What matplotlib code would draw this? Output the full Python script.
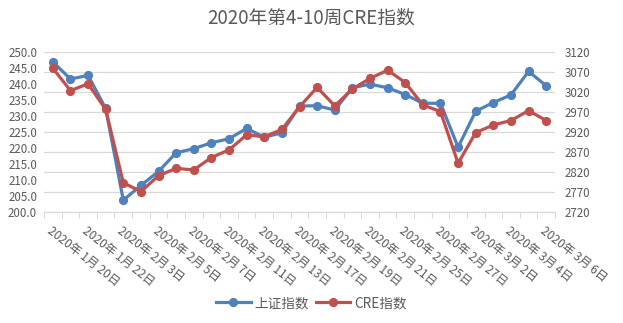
import numpy as np
import matplotlib
matplotlib.use("Agg")
import matplotlib.pyplot as plt
from matplotlib.ticker import FormatStrFormatter

plt.rcParams['font.family'] = ['Noto Sans CJK SC', 'DejaVu Sans']

# trading days, week 4-10 of 2020
dates = ['2020年1月20日', '2020年1月21日', '2020年1月22日', '2020年1月23日',
         '2020年2月3日', '2020年2月4日', '2020年2月5日', '2020年2月6日', '2020年2月7日',
         '2020年2月10日', '2020年2月11日', '2020年2月12日', '2020年2月13日', '2020年2月14日',
         '2020年2月17日', '2020年2月18日', '2020年2月19日', '2020年2月20日', '2020年2月21日',
         '2020年2月24日', '2020年2月25日', '2020年2月26日', '2020年2月27日', '2020年2月28日',
         '2020年3月2日', '2020年3月3日', '2020年3月4日', '2020年3月5日', '2020年3月6日']

# 上证指数 (right axis)
sse = [3096, 3053, 3062, 2979, 2749, 2786, 2821, 2868, 2878, 2893,
       2903, 2929, 2907, 2918, 2985, 2986, 2975, 3031, 3040, 3031,
       3014, 2992, 2992, 2882, 2972, 2994, 3013, 3072, 3036]

# CRE指数 (left axis)
cre = [245.0, 238.0, 240.1, 232.1, 209.1, 206.3, 211.3, 213.6, 213.1, 217.0,
       219.4, 224.1, 223.5, 225.8, 232.9, 239.0, 233.2, 238.5, 241.8, 244.4,
       240.5, 233.5, 231.4, 215.2, 224.8, 227.2, 228.6, 231.7, 228.6]

left_ticks = np.arange(200, 250.1, 5)
right_ticks = np.arange(2720, 3121, 50)

BLUE = '#4F81BD'
RED = '#C0504D'
GRID = '#D9D9D9'
TXT = '#595959'

fig = plt.figure(figsize=(6.23, 3.23), dpi=100)
W, H = 623, 323
ax = fig.add_axes([44 / W, 1 - 211.7 / H, (555 - 44) / W, (211.7 - 52.3) / H])
ax2 = ax.twinx()

x = np.arange(len(dates))

# blue on the primary axes (drawn below), ticks on the right
l1, = ax.plot(x, sse, color=BLUE, lw=2.3, marker='o', ms=5.6, label='上证指数')
ax.set_ylim(right_ticks[0], right_ticks[-1])
ax.set_yticks(right_ticks)
ax.yaxis.tick_right()
ax.grid(axis='y', color=GRID, lw=0.9)
ax.set_axisbelow(True)

# red on the twin axes (drawn on top), ticks on the left
l2, = ax2.plot(x, cre, color=RED, lw=2.3, marker='o', ms=5.6, label='CRE指数')
ax2.set_ylim(left_ticks[0], left_ticks[-1])
ax2.set_yticks(left_ticks)
ax2.yaxis.tick_left()
ax2.yaxis.set_major_formatter(FormatStrFormatter('%.1f'))

# excel puts a little gap after 年 and 月
xlabels = [d.replace('年', '年 ').replace('月', '月 ') for d in dates[::2]]

ax.set_xlim(-0.5, len(dates) - 0.5)
ax.set_xticks(x[::2])
ax.set_xticklabels(xlabels, rotation=-38, ha='left', va='top',
                   rotation_mode='anchor', fontsize=8.6, color=TXT)
ax.set_xticks(np.arange(-0.5, len(dates), 1), minor=True)
ax.tick_params(axis='x', which='major', length=0, pad=9)
ax.tick_params(axis='x', which='minor', length=4, color=GRID, width=0.8)

ax.tick_params(axis='y', length=0, labelsize=8.3, labelcolor=TXT, pad=7)
ax2.tick_params(axis='y', length=0, labelsize=8.3, labelcolor=TXT, pad=5)

for a in (ax, ax2):
    for s in ('top', 'left', 'right'):
        a.spines[s].set_visible(False)
ax2.spines['bottom'].set_visible(False)
ax.spines['bottom'].set_color(GRID)
ax.spines['bottom'].set_linewidth(0.9)

fig.text(0.5, 1 - 18 / H, '2020年第4-10周CRE指数', ha='center', va='center',
         fontsize=13.5, color=TXT)

fig.legend(handles=[l1, l2], loc='center', bbox_to_anchor=(0.5, 1 - 303 / H),
           ncol=2, frameon=False, fontsize=9.8, labelcolor=TXT,
           handlelength=2.5, handletextpad=0.3, columnspacing=0.5)

fig.savefig('out.png', dpi=100)
